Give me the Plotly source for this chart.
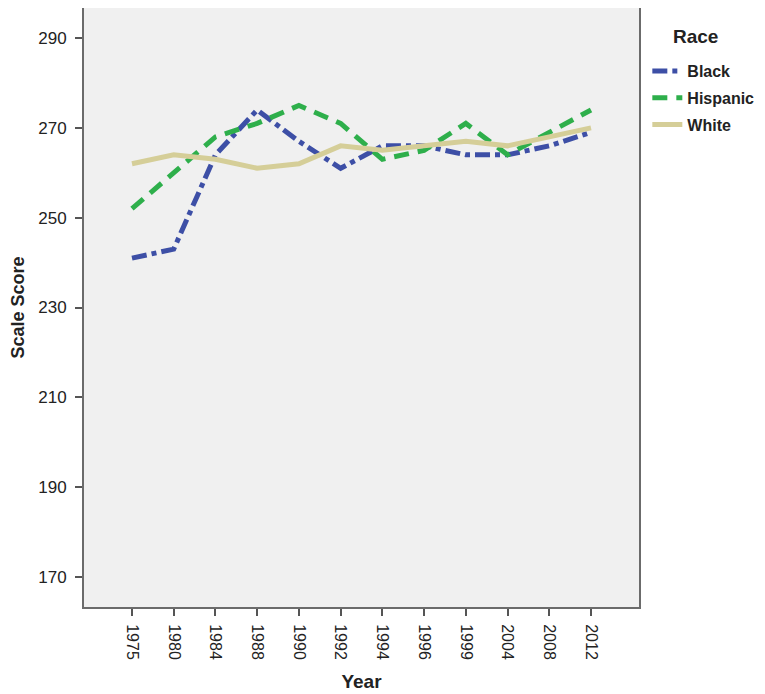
import plotly.graph_objects as go

years = ["1975", "1980", "1984", "1988", "1990", "1992", "1994", "1996", "1999", "2004", "2008", "2012"]
black = [241, 243, 264, 274, 267, 261, 266, 266, 264, 264, 266, 269]
hispanic = [252, 260, 268, 271, 275, 271, 263, 265, 271, 264, 269, 274]
white = [262, 264, 263, 261, 262, 266, 265, 266, 267, 266, 268, 270]
y_ticks = [170, 190, 210, 230, 250, 270, 290]

FONT = "Liberation Sans, Arial, sans-serif"

fig = go.Figure()
fig.add_trace(go.Scatter(x=years, y=black, mode="lines", name="<b>Black</b>", legendgroup="b",
                         line=dict(color="#3D4FA6", width=5, dash="15px,5px,5px,5px")))
fig.add_trace(go.Scatter(x=years, y=hispanic, mode="lines", name="<b>Hispanic</b>", legendgroup="h",
                         line=dict(color="#2EAF4B", width=5, dash="15px,9px")))
fig.add_trace(go.Scatter(x=years, y=white, mode="lines", name="<b>White</b>", legendgroup="w",
                         line=dict(color="#D5CE98", width=5)))

fig.update_layout(
    width=765, height=694,
    margin=dict(l=76, r=134, t=0, b=95, autoexpand=False),
    paper_bgcolor="white",
    plot_bgcolor="#F0F0F0",
    font=dict(family=FONT, size=17, color="#222222"),
    legend=dict(
        font=dict(size=16, family=FONT, color="#222222"),
        x=1.015, y=0.923, xanchor="left", yanchor="top",
        bgcolor="rgba(0,0,0,0)",
        tracegroupgap=3,
    ),
    showlegend=True,
    annotations=[dict(text="<b>Race</b>", xref="paper", yref="paper", x=1.101, y=0.952,
                      xanchor="center", yanchor="middle", showarrow=False,
                      font=dict(size=19, family=FONT, color="#222222"))],
)

fig.update_xaxes(
    type="category",
    range=[-1.15, 12.15],
    tickangle=90,
    ticks="outside", ticklen=7, tickwidth=2, tickcolor="#555555",
    ticklabelstandoff=5,
    showline=True, linecolor="#6B6B6B", linewidth=2, mirror=True,
    showgrid=False, zeroline=False, automargin=False,
    tickfont=dict(size=16, family=FONT, color="#222222"),
    title=dict(text="<b>Year</b>", font=dict(size=19, family=FONT, color="#222222"), standoff=16),
)
fig.update_yaxes(
    range=[163.3, 296.7],
    tickvals=y_ticks,
    ticks="outside", ticklen=7, tickwidth=2, tickcolor="#555555",
    ticklabelstandoff=5,
    showline=True, linecolor="#6B6B6B", linewidth=2, mirror=True,
    showgrid=False, zeroline=False, automargin=False,
    tickfont=dict(size=17, family=FONT, color="#222222"),
    title=dict(text="<b>Scale Score</b>", font=dict(size=18, family=FONT, color="#222222"), standoff=10),
)

fig.write_html("out.html")
